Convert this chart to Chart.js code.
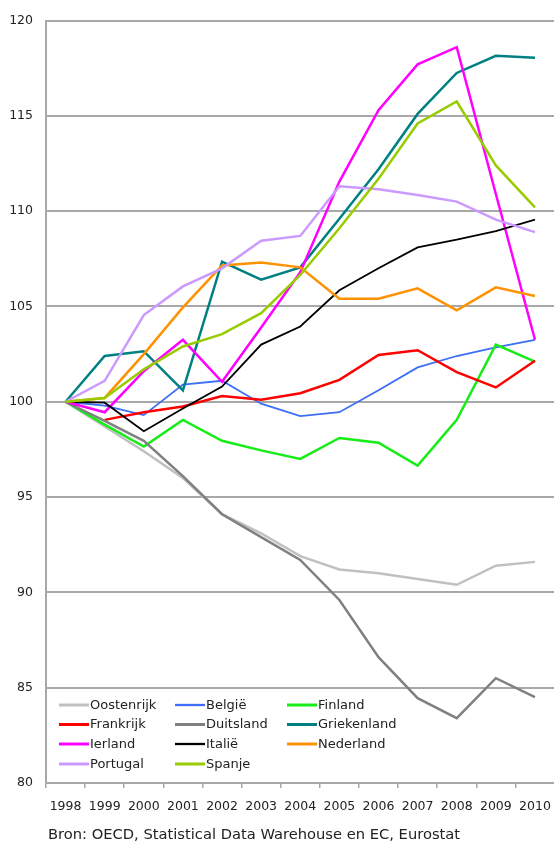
<!DOCTYPE html>
<html>
<head>
<meta charset="utf-8">
<script src="https://cdn.jsdelivr.net/npm/chart.js@4/dist/chart.umd.min.js"></script>
<style>
  html, body { margin: 0; padding: 0; background: #fff; overflow: hidden; width: 554px; height: 846px; }
  #wrap { position: absolute; left: 0; top: 0; width: 562px; height: 846px; }
</style>
</head>
<body>
<div id="wrap"><canvas id="c" width="562" height="846"></canvas></div>
<script>
// ---- data ----
const years = ['1998','1999','2000','2001','2002','2003','2004','2005','2006','2007','2008','2009','2010'];
const seriesNames = ['Oostenrijk','België','Finland','Frankrijk','Duitsland','Griekenland','Ierland','Italië','Nederland','Portugal','Spanje'];
const oostenrijk  = [100, 98.7, 97.4, 96.0, 94.1, 93.1, 91.9, 91.2, 91.0, 90.7, 90.4, 91.4, 91.6];
const belgie      = [100, 99.8, 99.3, 100.9, 101.1, 99.9, 99.25, 99.45, 100.6, 101.8, 102.4, 102.85, 103.25];
const finland     = [100, 98.8, 97.65, 99.05, 97.95, 97.45, 97.0, 98.1, 97.85, 96.65, 99.05, 103.0, 102.1];
const frankrijk   = [null, 99.05, 99.45, 99.75, 100.3, 100.1, 100.45, 101.15, 102.45, 102.7, 101.55, 100.75, 102.15];
const duitsland   = [100, 99.0, 97.95, 96.1, 94.1, 92.9, 91.7, 89.6, 86.6, 84.45, 83.4, 85.5, 84.5];
const griekenland = [100, 102.4, 102.65, 100.6, 107.35, 106.4, 107.05, 109.6, 112.2, 115.1, 117.25, 118.15, 118.05];
const ierland     = [100, 99.45, 101.6, 103.25, 101.05, 103.9, 106.8, 111.55, 115.3, 117.7, 118.6, 110.9, 103.25];
const italie      = [100, 99.95, 98.45, 99.65, 100.8, 103.0, 103.95, 105.85, 107.0, 108.1, 108.5, 108.95, 109.55];
const nederland   = [100, 100.2, 102.5, 104.95, 107.15, 107.3, 107.05, 105.4, 105.4, 105.95, 104.8, 106.0, 105.55];
const portugal    = [100, 101.1, 104.55, 106.05, 107.0, 108.45, 108.7, 111.3, 111.15, 110.85, 110.5, 109.55, 108.9];
const spanje      = [100, 100.2, 101.7, 102.9, 103.55, 104.65, 106.65, 109.1, 111.7, 114.6, 115.75, 112.4, 110.2];
const sourceText = 'Bron: OECD, Statistical Data Warehouse en EC, Eurostat';

// ---- styling ----
const values = [oostenrijk, belgie, finland, frankrijk, duitsland, griekenland, ierland, italie, nederland, portugal, spanje];
const colors = ['#c0c0c0','#3d6ef5','#16ec16','#ff0000','#808080','#008080','#ff00ff','#000000','#ff9200','#cc99ff','#99cc00'];
const widths = [2.5, 1.8, 2.5, 2.5, 2.5, 2.5, 2.5, 1.8, 2.5, 2.5, 2.5];
const FONT = '"DejaVu Sans", Verdana, sans-serif';
const GRID = '#a8a8a8';

const datasets = values.map((v, i) => ({
  label: seriesNames[i],
  data: v,
  borderColor: colors[i],
  backgroundColor: colors[i],
  borderWidth: widths[i],
  pointRadius: 0,
  pointHoverRadius: 0,
  tension: 0,
  fill: false,
  order: values.length - i
}));

const legendPlugin = {
  id: 'customLegend',
  afterDraw(chart) {
    const ctx = chart.ctx;
    const cols = [59, 175, 287];
    const rows = [705, 724.5, 744, 764];
    ctx.save();
    ctx.font = '13px ' + FONT;
    ctx.textBaseline = 'middle';
    ctx.textAlign = 'left';
    chart.data.datasets.forEach((ds, i) => {
      const x = cols[i % 3];
      const y = rows[Math.floor(i / 3)];
      ctx.strokeStyle = ds.borderColor;
      ctx.lineWidth = ds.borderWidth + 0.5;
      ctx.beginPath();
      ctx.moveTo(x, y);
      ctx.lineTo(x + 30, y);
      ctx.stroke();
      ctx.fillStyle = '#222';
      ctx.fillText(ds.label, x + 31, y + 0.5);
    });
    ctx.font = '14.7px ' + FONT;
    ctx.fillStyle = '#222';
    ctx.fillText(sourceText, 48, 835);
    ctx.restore();
  }
};

new Chart(document.getElementById('c'), {
  type: 'line',
  data: { labels: years, datasets },
  plugins: [legendPlugin],
  options: {
    responsive: false,
    animation: false,
    devicePixelRatio: 1,
    layout: { padding: { top: 13, left: 0, right: 3, bottom: 0 } },
    plugins: { legend: { display: false }, tooltip: { enabled: false }, title: { display: false } },
    scales: {
      x: {
        type: 'category',
        offset: true,
        afterFit(scale) { scale.height = 63; },
        grid: {
          display: true,
          offset: true,
          drawOnChartArea: false,
          drawTicks: true,
          tickLength: 5,
          color: GRID,
          lineWidth: 1.5
        },
        border: { display: true, color: GRID, width: 2 },
        ticks: {
          color: '#222',
          font: { family: FONT, size: 12.5 },
          padding: 11,
          maxRotation: 0,
          autoSkip: false
        }
      },
      y: {
        min: 80,
        max: 120,
        afterFit(scale) { scale.width = 46; },
        grid: {
          color: GRID,
          lineWidth: 2,
          drawTicks: false
        },
        border: { display: true, color: GRID, width: 2 },
        ticks: {
          stepSize: 5,
          color: '#222',
          font: { family: FONT, size: 12.5 },
          padding: 13
        }
      }
    }
  }
});
</script>
</body>
</html>
